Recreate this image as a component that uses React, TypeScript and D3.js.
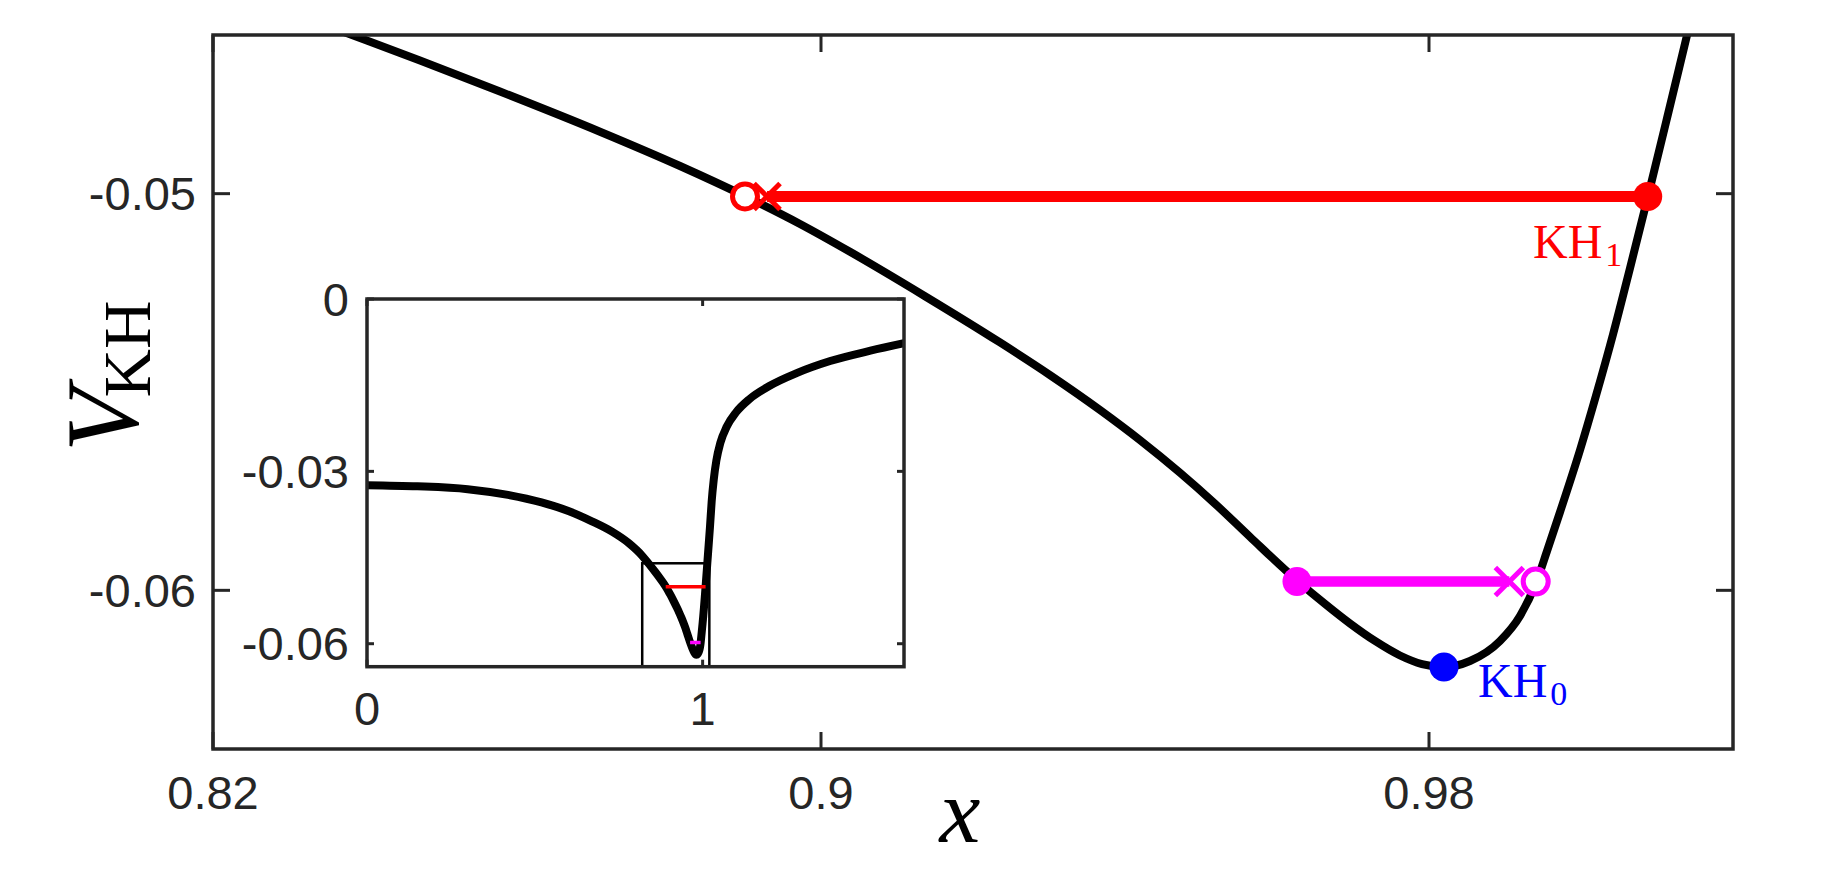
import React from "react";
import * as d3 from "d3";

// ---- data ----
const curveX = [
  0, 0.15, 0.3, 0.42, 0.52, 0.6, 0.67, 0.73, 0.78, 0.82,
  0.838289, 0.847237, 0.857763, 0.870921, 0.881447, 0.89, 0.897237, 0.903816,
  0.913684, 0.923553, 0.930132, 0.936711, 0.941974, 0.947237, 0.951842, 0.956447,
  0.962632, 0.966316, 0.969605, 0.972895, 0.976184, 0.979079, 0.981974,
  0.985395, 0.989342, 0.991974, 0.994079, 0.995526, 0.997237, 0.999868,
  1.001974, 1.004211, 1.006447, 1.008816, 1.011316, 1.013947,
  1.018, 1.022, 1.027, 1.033, 1.041, 1.053, 1.072, 1.1, 1.14, 1.2, 1.28, 1.38, 1.5, 1.6,
];
const curveV = [
  -0.0324, -0.0326, -0.0331, -0.0341, -0.0354, -0.0369, -0.0387, -0.0405, -0.0425, -0.0447,
  -0.046, -0.046643, -0.047424, -0.048438, -0.049303, -0.050064, -0.050765, -0.051466,
  -0.052585, -0.053752, -0.054574, -0.055454, -0.056213, -0.057037, -0.057816, -0.058653,
  -0.05975, -0.060342, -0.060836, -0.061277, -0.061643, -0.06186, -0.061933,
  -0.061782, -0.061277, -0.060647, -0.059815, -0.059011, -0.058028, -0.056465,
  -0.055093, -0.05355, -0.051879, -0.050064, -0.0481, -0.046008,
  -0.0428, -0.0396, -0.0352, -0.0315, -0.0281, -0.0250, -0.0222, -0.0197, -0.0174, -0.0151, -0.0129, -0.0108, -0.009, -0.0077,
];

// KH1 (red) transition
const kh1LineX = [0.8929, 1.00878];
const kh1V = -0.05007;
const kh1CrossX = 0.8929;
const kh1OpenX = 0.89;
const kh1DotX = 1.00878;

// magenta transition
const kh0LineX = [0.96263, 0.99057];
const kh0V = -0.05978;
const kh0CrossX = 0.99057;
const kh0OpenX = 0.99404;
const kh0DotX = 0.96263;

// KH0 minimum (blue)
const minX = 0.98197;
const minV = -0.06193;

// axes
const xDomain = [0.82, 1.02];
const yDomain = [-0.064, -0.046];
const xTicks = [0.82, 0.9, 0.98];
const xTickLabels = ["0.82", "0.9", "0.98"];
const yTicks = [-0.05, -0.06];
const yTickLabels = ["-0.05", "-0.06"];

const insetXDomain = [0, 1.6];
const insetYDomain = [-0.064, 0];
const insetXTicks = [0, 1];
const insetXTickLabels = ["0", "1"];
const insetYTicks = [0, -0.03, -0.06];
const insetYTickLabels = ["0", "-0.03", "-0.06"];

const AX = "#262626";
const SANS = "'Liberation Sans', Arial, Helvetica, sans-serif";
const SERIF = "'Liberation Serif', 'Times New Roman', serif";

export default function App() {
  const W = 1822, H = 886;
  const m = { left: 213, right: 1733, top: 35, bottom: 749 };
  const ins = { left: 367, right: 904, top: 299, bottom: 666.7 };

  const x = d3.scaleLinear().domain(xDomain).range([m.left, m.right]);
  const y = d3.scaleLinear().domain(yDomain).range([m.bottom, m.top]);
  const ix = d3.scaleLinear().domain(insetXDomain).range([ins.left, ins.right]);
  const iy = d3.scaleLinear().domain(insetYDomain).range([ins.bottom, ins.top]);

  const pts = curveX.map((v, i) => [v, curveV[i]] as [number, number]);
  const mainLine = d3.line<[number, number]>().x((d) => x(d[0])).y((d) => y(d[1])).curve(d3.curveMonotoneX);
  const insetLine = d3.line<[number, number]>().x((d) => ix(d[0])).y((d) => iy(d[1])).curve(d3.curveMonotoneX);

  const tickLen = 17;
  const iTickLen = 7;
  const fs = 47;

  const cross = (cx: number, cy: number, s: number, color: string) => (
    <g stroke={color} strokeWidth={5}>
      <line x1={cx - s} y1={cy - s} x2={cx + s} y2={cy + s} />
      <line x1={cx - s} y1={cy + s} x2={cx + s} y2={cy - s} />
    </g>
  );

  return (
    <svg width={W} height={H} style={{ position: "absolute", left: 0, top: 0, display: "block", background: "#fff" }}>
      <defs>
        <clipPath id="mainClip">
          <rect x={m.left} y={m.top} width={m.right - m.left} height={m.bottom - m.top} />
        </clipPath>
        <clipPath id="insetClip">
          <rect x={ins.left} y={ins.top} width={ins.right - ins.left} height={ins.bottom - ins.top} />
        </clipPath>
      </defs>
      <rect x={0} y={0} width={W} height={H} fill="#fff" />

      {/* main curve */}
      <g clipPath="url(#mainClip)">
        <path d={mainLine(pts) || ""} fill="none" stroke="#000" strokeWidth={8} />
        {/* red transition */}
        <line x1={x(kh1LineX[0])} x2={x(kh1LineX[1])} y1={y(kh1V)} y2={y(kh1V)} stroke="#ff0000" strokeWidth={11} />
        {cross(x(kh1CrossX), y(kh1V), 13, "#ff0000")}
        <circle cx={x(kh1OpenX)} cy={y(kh1V)} r={12.5} fill="#fff" stroke="#ff0000" strokeWidth={5} />
        <circle cx={x(kh1DotX)} cy={y(kh1V)} r={14.5} fill="#ff0000" />
        {/* magenta transition */}
        <line x1={x(kh0LineX[0])} x2={x(kh0LineX[1])} y1={y(kh0V)} y2={y(kh0V)} stroke="#ff00ff" strokeWidth={10.5} />
        {cross(x(kh0CrossX), y(kh0V), 14, "#ff00ff")}
        <circle cx={x(kh0OpenX)} cy={y(kh0V)} r={12.5} fill="#fff" stroke="#ff00ff" strokeWidth={5} />
        <circle cx={x(kh0DotX)} cy={y(kh0V)} r={14.5} fill="#ff00ff" />
        {/* minimum */}
        <circle cx={x(minX)} cy={y(minV)} r={14.5} fill="#0000ff" />
      </g>

      {/* main box and ticks */}
      <rect x={m.left} y={m.top} width={m.right - m.left} height={m.bottom - m.top} fill="none" stroke={AX} strokeWidth={3.5} />
      {xTicks.map((t, i) => (
        <g key={"xt" + i}>
          <line x1={x(t)} x2={x(t)} y1={m.bottom} y2={m.bottom - tickLen} stroke={AX} strokeWidth={3} />
          <line x1={x(t)} x2={x(t)} y1={m.top} y2={m.top + tickLen} stroke={AX} strokeWidth={3} />
          <text x={x(t)} y={809} textAnchor="middle" fontFamily={SANS} fontSize={fs} fill={AX}>{xTickLabels[i]}</text>
        </g>
      ))}
      {yTicks.map((t, i) => (
        <g key={"yt" + i}>
          <line x1={m.left} x2={m.left + tickLen} y1={y(t)} y2={y(t)} stroke={AX} strokeWidth={3} />
          <line x1={m.right} x2={m.right - tickLen} y1={y(t)} y2={y(t)} stroke={AX} strokeWidth={3} />
          <text x={196} y={y(t) + 16.5} textAnchor="end" fontFamily={SANS} fontSize={fs} fill={AX}>{yTickLabels[i]}</text>
        </g>
      ))}

      {/* labels */}
      <text x={960} y={842} textAnchor="middle" fontFamily={SERIF} fontStyle="italic" fontSize={92} fill="#000">x</text>
      <text transform="translate(137,452) rotate(-90)" fontFamily={SERIF} fill="#000">
        <tspan fontStyle="italic" fontSize={104}>V</tspan>
        <tspan fontSize={67} dx={-9} dy={13}>KH</tspan>
      </text>
      <text x={1533} y={258} fontFamily={SERIF} fontSize={48} fill="#ff0000">
        KH<tspan fontSize={34} dx={3} dy={8}>1</tspan>
      </text>
      <text x={1478} y={697} fontFamily={SERIF} fontSize={48} fill="#0000ff">
        KH<tspan fontSize={34} dx={3} dy={8}>0</tspan>
      </text>

      {/* inset */}
      <rect x={ins.left} y={ins.top} width={ins.right - ins.left} height={ins.bottom - ins.top} fill="#fff" />
      <g clipPath="url(#insetClip)">
        <path d={insetLine(pts) || ""} fill="none" stroke="#000" strokeWidth={8} />
        <rect x={ix(xDomain[0])} y={iy(yDomain[1])} width={ix(xDomain[1]) - ix(xDomain[0])} height={iy(yDomain[0]) - iy(yDomain[1])} fill="none" stroke="#000" strokeWidth={2.5} />
        <line x1={ix(kh1OpenX)} x2={ix(kh1DotX)} y1={iy(kh1V)} y2={iy(kh1V)} stroke="#ff0000" strokeWidth={3.5} />
        <line x1={ix(kh0DotX)} x2={ix(kh0OpenX)} y1={iy(kh0V)} y2={iy(kh0V)} stroke="#ff00ff" strokeWidth={3.5} />
      </g>
      <rect x={ins.left} y={ins.top} width={ins.right - ins.left} height={ins.bottom - ins.top} fill="none" stroke={AX} strokeWidth={3.5} />
      {insetXTicks.map((t, i) => (
        <g key={"ixt" + i}>
          <line x1={ix(t)} x2={ix(t)} y1={ins.bottom} y2={ins.bottom - iTickLen} stroke={AX} strokeWidth={3} />
          <line x1={ix(t)} x2={ix(t)} y1={ins.top} y2={ins.top + iTickLen} stroke={AX} strokeWidth={3} />
          <text x={ix(t)} y={725} textAnchor="middle" fontFamily={SANS} fontSize={fs} fill={AX}>{insetXTickLabels[i]}</text>
        </g>
      ))}
      {insetYTicks.map((t, i) => (
        <g key={"iyt" + i}>
          <line x1={ins.left} x2={ins.left + iTickLen} y1={iy(t)} y2={iy(t)} stroke={AX} strokeWidth={3} />
          <line x1={ins.right} x2={ins.right - iTickLen} y1={iy(t)} y2={iy(t)} stroke={AX} strokeWidth={3} />
          <text x={349} y={iy(t) + 16.5} textAnchor="end" fontFamily={SANS} fontSize={fs} fill={AX}>{insetYTickLabels[i]}</text>
        </g>
      ))}
    </svg>
  );
}
